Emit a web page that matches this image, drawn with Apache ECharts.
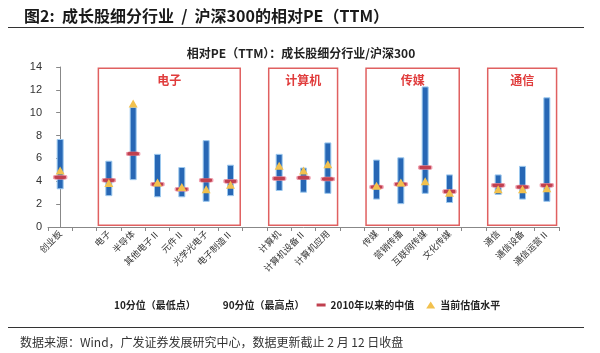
<!DOCTYPE html>
<html>
<head>
<meta charset="utf-8">
<script src="https://cdn.jsdelivr.net/npm/echarts@6/dist/echarts.min.js"></script>
<style>
html, body { margin: 0; padding: 0; background: #fff; }
#main { width: 600px; height: 353px; }
</style>
</head>
<body>
<div id="main"></div>
<script>
// 行业分类（空白项用作组间空位）
const categories = ['创业板', ' ', '电子', '半导体', '其他电子Ⅱ', '元件Ⅱ', '光学光电子', '电子制造Ⅱ', '  ',
  '计算机', '计算机设备Ⅱ', '计算机应用', '   ', '传媒', '营销传播', '互联网传媒', '文化传媒', '    ',
  '通信', '通信设备', '通信运营Ⅱ']
const low = [3.3, '-', 2.7, 4.1, 2.6, 2.6, 2.2, 2.7, '-', 3.15, 3.0, 2.9, '-', 2.4, 2.0, 2.9, 2.1, '-', 2.8, 2.4, 2.2]
const high = [7.7, '-', 5.8, 10.5, 6.4, 5.25, 7.6, 5.45, '-', 6.4, 5.2, 7.4, '-', 5.9, 6.1, 12.3, 4.6, '-', 4.6, 5.35, 11.35]
const median = [4.35, '-', 4.1, 6.4, 3.75, 3.3, 4.1, 4.0, '-', 4.25, 4.3, 4.2, '-', 3.5, 3.75, 5.2, 3.1, '-', 3.65, 3.5, 3.65]
const current = [4.95, '-', 3.85, 10.8, 3.9, 3.5, 3.3, 3.7, '-', 5.35, 4.95, 5.5, '-', 3.6, 3.9, 4.0, 3.0, '-', 3.3, 3.3, 3.4]
const yTicks = [0, 2, 4, 6, 8, 10, 12, 14]
// 红框分组：名称、首个和末个类别序号
const groupNames = ['电子', '计算机', '传媒', '通信']
const groupFirst = [2, 9, 13, 18]
const groupLast = [7, 11, 16, 20]

// 堆叠柱：透明的10分位打底，上面是10~90分位区间
const range = high.map((h, i) => (h === '-' ? '-' : +(h - low[i]).toFixed(2)))

const cjk = '"Noto Sans CJK SC", sans-serif'
const chart = echarts.init(document.getElementById('main'))

chart.setOption({
  animation: false,
  textStyle: { fontFamily: cjk },
  title: [
    {
      text: '图2:  成长股细分行业  /  沪深300的相对PE（TTM）',
      left: 19, top: 3,
      textStyle: { fontSize: 16, fontWeight: 'bold', color: '#1a1a1a', fontFamily: cjk },
    },
    {
      text: '相对PE（TTM）：成长股细分行业/沪深300',
      left: 296, top: 42, textAlign: 'center',
      textStyle: { fontSize: 12, fontWeight: 'bold', color: '#222', fontFamily: cjk },
    },
    {
      text: '数据来源：Wind，广发证券发展研究中心，数据更新截止 2 月 12 日收盘',
      left: 15, top: 331,
      textStyle: { fontSize: 12, fontWeight: 'normal', color: '#333', fontFamily: cjk },
    },
  ],
  graphic: [
    { type: 'line', shape: { x1: 8, y1: 27.5, x2: 584, y2: 27.5 }, style: { stroke: '#333', lineWidth: 1 } },
    { type: 'line', shape: { x1: 8, y1: 327.5, x2: 584, y2: 327.5 }, style: { stroke: '#333', lineWidth: 1 } },
  ],
  grid: { left: 48, right: 41, top: 67, bottom: 126 },
  legend: {
    top: 295,
    left: 95,
    itemGap: 12,
    itemWidth: 9,
    itemHeight: 7,
    textStyle: { fontSize: 10, fontWeight: 'bold', color: '#222' },
    data: [
      { name: '10分位（最低点）', icon: 'rect', itemStyle: { opacity: 0 } },
      { name: '90分位（最高点）', icon: 'rect', itemStyle: { opacity: 0 } },
      { name: '2010年以来的中值', icon: 'path://M0,0H9V3H0Z', itemStyle: { color: '#c0404f', borderWidth: 0 } },
      { name: '当前估值水平', icon: 'triangle', itemStyle: { color: '#f2c14e', borderWidth: 0 } },
    ],
  },
  xAxis: [
    {
      type: 'category',
      data: categories,
      axisLine: { lineStyle: { color: '#888' } },
      axisTick: { show: true, length: 4, lineStyle: { color: '#888' } },
      axisLabel: { rotate: 45, fontSize: 9, color: '#333', margin: 5, interval: 0 },
    },
    { type: 'value', min: -0.5, max: categories.length - 0.5, show: false },
  ],
  yAxis: {
    type: 'value',
    min: yTicks[0],
    max: yTicks[yTicks.length - 1],
    interval: 2,
    splitLine: { show: false },
    axisLine: { show: true, lineStyle: { color: '#888' } },
    axisTick: { show: true, length: 4, lineStyle: { color: '#888' } },
    axisLabel: { fontSize: 11, color: '#333', fontFamily: 'Liberation Sans, Arial, sans-serif', margin: 6 },
  },
  series: [
    {
      name: '10分位（最低点）',
      type: 'bar',
      stack: 'pe',
      data: low,
      barWidth: 7,
      itemStyle: { color: 'transparent' },
    },
    {
      name: '90分位（最高点）',
      type: 'bar',
      stack: 'pe',
      data: range,
      barWidth: 7,
      itemStyle: { color: '#2767b5', borderColor: '#9cc8ee', borderWidth: 1 },
    },
    {
      name: '2010年以来的中值',
      type: 'scatter',
      data: median,
      symbol: 'roundRect',
      symbolSize: [13, 4],
      itemStyle: { color: '#c0404f', borderColor: '#f0a0b0', borderWidth: 0.8, opacity: 1 },
      z: 3,
    },
    {
      name: '当前估值水平',
      type: 'scatter',
      data: current,
      symbol: 'triangle',
      symbolSize: [9, 8],
      itemStyle: { color: '#f2c14e', opacity: 1 },
      z: 4,
    },
    {
      // 红框分组只借用隐藏的数值x轴画markArea
      name: 'groups',
      type: 'scatter',
      xAxisIndex: 1,
      data: [[0, -5]],
      symbolSize: 0,
      silent: true,
      markArea: {
        silent: true,
        itemStyle: { color: 'transparent', borderColor: '#e06060', borderWidth: 1.5 },
        label: { position: 'insideTop', distance: 7, color: '#e03c3c', fontSize: 12, fontWeight: 'bold', fontFamily: cjk },
        data: groupNames.map((n, i) => [
          { name: n, xAxis: groupFirst[i] - 0.43, yAxis: 0.15 },
          { xAxis: groupLast[i] + 0.4, yAxis: 13.9 },
        ]),
      },
    },
  ],
})
</script>
</body>
</html>
